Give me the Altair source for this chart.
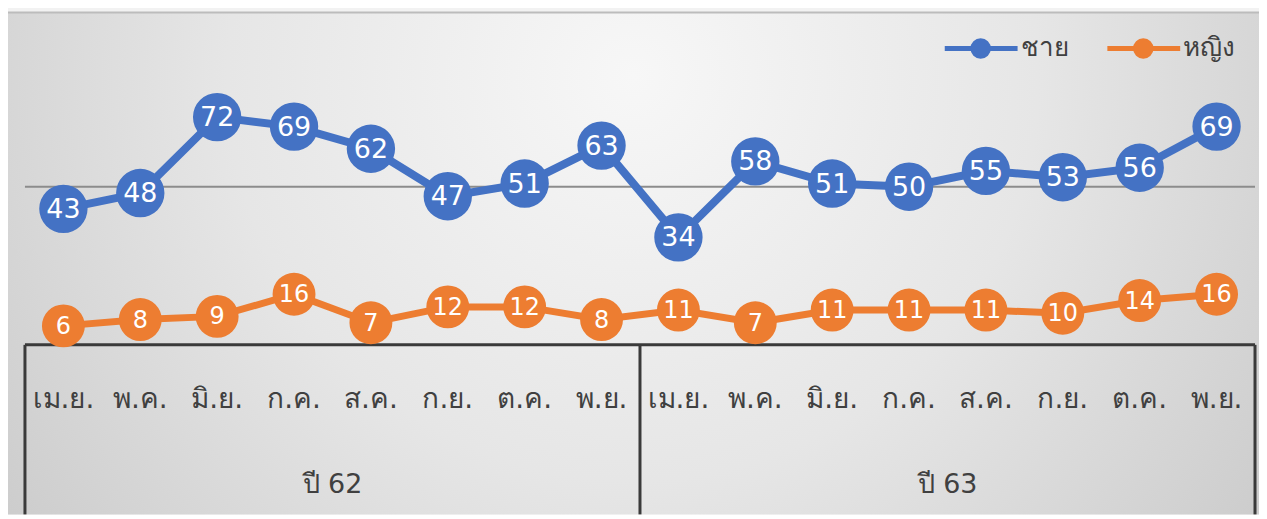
import altair as alt
import pandas as pd

months = ["เม.ย.", "พ.ค.", "มิ.ย.", "ก.ค.", "ส.ค.", "ก.ย.", "ต.ค.", "พ.ย."]
years = ["ปี 62", "ปี 63"]
series_names = ["ชาย", "หญิง"]
male = [43, 48, 72, 69, 62, 47, 51, 63, 34, 58, 51, 50, 55, 53, 56, 69]
female = [6, 8, 9, 16, 7, 12, 12, 8, 11, 7, 11, 11, 11, 10, 14, 16]
colors = ["#4472C4", "#ED7D31"]

W, H = 1233, 487
FONT = "DejaVu Sans"
YMIN, YMAX = -53.6, 100

rows = []
for s, vals in zip(series_names, [male, female]):
    for i, v in enumerate(vals):
        rows.append({"idx": i, "month": months[i % 8], "year": years[i // 8],
                     "series": s, "value": v})
df = pd.DataFrame(rows)
df_m = df[df.series == series_names[0]].reset_index(drop=True)
df_f = df[df.series == series_names[1]].reset_index(drop=True)
cats = df_m[["idx", "month", "year"]]

g = cats.groupby("year")["idx"].agg(["min", "max", "mean"]).reset_index()
bounds = sorted(set(list(g["min"] - 0.5) + list(g["max"] + 0.5)))
sep_df = pd.DataFrame({"b": bounds, "y0": [0.0] * len(bounds), "y1": [YMIN] * len(bounds)})
year_df = pd.DataFrame({"year": g["year"], "center": g["mean"].astype(float)})
hline_df = pd.DataFrame({"v": [0.0], "x0": [bounds[0]], "x1": [bounds[-1]]})
grid_df = pd.DataFrame({"v": [50.0], "x0": [bounds[0]], "x1": [bounds[-1]]})

# pixel <-> data helpers for decorations (background panel, legend)
pxx = W / (bounds[-1] - bounds[0])
pxy = H / (YMAX - YMIN)
VIEW_LEFT, VIEW_TOP = 25, 28


def px_x(p):
    return bounds[0] + (p - VIEW_LEFT) / pxx


def px_y(p):
    return YMAX - (p - VIEW_TOP) / pxy


bg_df = pd.DataFrame({"x0": [px_x(7)], "x1": [px_x(1262)], "y0": [YMIN], "y1": [px_y(12)]})

leg_df = pd.DataFrame({
    "series": series_names,
    "lx0": [px_x(947), px_x(1110)],
    "lx1": [px_x(1020), px_x(1183)],
    "cx": [px_x(983), px_x(1146)],
    "tx": [px_x(1023), px_x(1186)],
    "ly": [px_y(48), px_y(48)],
})

xs = alt.Scale(domain=[bounds[0], bounds[-1]], nice=False, zero=False)
ys = alt.Scale(domain=[YMIN, YMAX], nice=False, zero=False)
cs = alt.Scale(domain=series_names, range=colors)

X = alt.X("idx:Q", scale=xs, axis=None)
Y = alt.Y("value:Q", scale=ys, axis=None)
C = alt.Color("series:N", scale=cs, legend=None)

bg = alt.Chart(bg_df).mark_rect(
    color=alt.RadialGradient(
        gradient="radial",
        x1=0.5, y1=0.35, r1=0, x2=0.5, y2=0.35, r2=0.72,
        stops=[alt.GradientStop(offset=0, color="#f7f7f7"),
               alt.GradientStop(offset=0.45, color="#e6e6e6"),
               alt.GradientStop(offset=1, color="#c3c3c3")],
    )
).encode(x=alt.X("x0:Q", scale=xs, axis=None), x2="x1:Q",
         y=alt.Y("y0:Q", scale=ys, axis=None), y2="y1:Q")

topline = alt.Chart(bg_df).mark_rule(color="#bcbcbc", strokeWidth=2).encode(
    x=alt.X("x0:Q", scale=xs, axis=None), x2="x1:Q", y=alt.Y("y1:Q", scale=ys, axis=None))

grid = alt.Chart(grid_df).mark_rule(color="#8c8c8c", strokeWidth=2).encode(
    y=alt.Y("v:Q", scale=ys, axis=None), x=alt.X("x0:Q", scale=xs, axis=None), x2="x1:Q")

baseline = alt.Chart(hline_df).mark_rule(color="#3a3a3a", strokeWidth=3).encode(
    y=alt.Y("v:Q", scale=ys, axis=None), x=alt.X("x0:Q", scale=xs, axis=None), x2="x1:Q")

seps = alt.Chart(sep_df).mark_rule(color="#3a3a3a", strokeWidth=3).encode(
    x=alt.X("b:Q", scale=xs, axis=None), y=alt.Y("y0:Q", scale=ys, axis=None), y2="y1:Q")

month_txt = alt.Chart(cats).mark_text(font=FONT, fontSize=28, color="#404040", baseline="middle", dy=55).encode(
    x=X, y=alt.Y("zero:Q", scale=ys, axis=None), text="month:N").transform_calculate(zero="0")

year_txt = alt.Chart(year_df).mark_text(font=FONT, fontSize=27, color="#404040", baseline="middle", dy=140).encode(
    x=alt.X("center:Q", scale=xs, axis=None), y=alt.Y("zero:Q", scale=ys, axis=None), text="year:N").transform_calculate(zero="0")

line_m = alt.Chart(df_m).mark_line(strokeWidth=8).encode(x=X, y=Y, color=C)
line_f = alt.Chart(df_f).mark_line(strokeWidth=7).encode(x=X, y=Y, color=C)

pts_m = alt.Chart(df_m).mark_circle(opacity=1, size=2350).encode(x=X, y=Y, color=C)
pts_f = alt.Chart(df_f).mark_circle(opacity=1, size=1850).encode(x=X, y=Y, color=C)

lab_m = alt.Chart(df_m).mark_text(font=FONT, color="white", baseline="middle", dy=1, fontSize=27).encode(
    x=X, y=Y, text="value:Q")
lab_f = alt.Chart(df_f).mark_text(font=FONT, color="white", baseline="middle", dy=1, fontSize=24).encode(
    x=X, y=Y, text="value:Q")

leg_line = alt.Chart(leg_df).mark_rule(strokeWidth=5).encode(
    x=alt.X("lx0:Q", scale=xs, axis=None), x2="lx1:Q",
    y=alt.Y("ly:Q", scale=ys, axis=None), color=C)
leg_dot = alt.Chart(leg_df).mark_circle(opacity=1, size=420).encode(
    x=alt.X("cx:Q", scale=xs, axis=None), y=alt.Y("ly:Q", scale=ys, axis=None), color=C)
leg_txt = alt.Chart(leg_df).mark_text(font=FONT, fontSize=26, color="#404040", align="left",
                                      baseline="middle").encode(
    x=alt.X("tx:Q", scale=xs, axis=None), y=alt.Y("ly:Q", scale=ys, axis=None), text="series:N")

chart = alt.layer(bg, topline, grid, baseline, seps, month_txt, year_txt,
                  line_m, line_f, pts_m, pts_f, lab_m, lab_f,
                  leg_line, leg_dot, leg_txt).properties(
    width=W, height=H,
    padding={"left": 17, "top": 20, "right": 4, "bottom": 0},
    autosize=alt.AutoSizeParams(type="none"),
    background="#f2f2f2",
).configure_view(stroke=None)

chart.save("out.html", embed_options={"renderer": "svg", "actions": False})
